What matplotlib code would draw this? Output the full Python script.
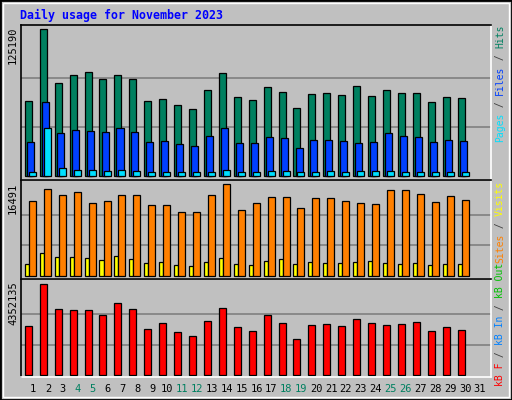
import numpy as np
import matplotlib.pyplot as plt
from matplotlib.patches import Rectangle

days = list(range(1, 32))
weekend = [4, 5, 11, 12, 18, 19, 25, 26]

hits = [63900, 125190, 79200, 86000, 88600, 82600, 86000, 82600, 63900, 65600,
        60500, 57100, 73300, 87700, 67300, 64700, 75800, 71600, 57900, 69900,
        70700, 69000, 76700, 68200, 73300, 70700, 70700, 63000, 67300, 66500]
files = [29000, 63000, 36600, 39200, 38300, 37500, 40900, 37500, 29000, 29800,
         27300, 25600, 34100, 40900, 28100, 28100, 33200, 32400, 23900, 30700,
         30700, 29800, 28100, 29000, 36600, 34100, 33200, 29000, 30700, 29800]
pages = [3400, 40900, 6800, 5100, 5100, 4300, 5100, 4300, 3400, 3400,
         3400, 3400, 3400, 5100, 3400, 3400, 4300, 4300, 3400, 3400,
         4300, 3400, 4300, 4300, 4300, 3400, 3400, 3400, 3400, 3400]
sites = [13400, 15600, 14500, 15000, 13100, 13400, 14500, 14500, 12700, 12700,
         11500, 11500, 14500, 16491, 11800, 13100, 14100, 14100, 12200, 14000,
         14000, 13400, 13100, 12900, 15400, 15400, 14700, 13200, 14300, 13600]
visits = [2150, 4100, 3400, 3400, 3200, 2900, 3600, 3000, 2300, 2500,
          2000, 1800, 2500, 3200, 2150, 2000, 2700, 3000, 2150, 2500,
          2300, 2300, 2500, 2700, 2300, 2150, 2300, 2000, 2150, 2150]
kbytes = [2343000, 4352135, 3157000, 3109000, 3109000, 2870000, 3443000, 3157000,
          2200000, 2487000, 2057000, 1865000, 2583000, 3204000, 2296000, 2104000,
          2870000, 2487000, 1722000, 2391000, 2439000, 2343000, 2678000, 2487000,
          2391000, 2439000, 2535000, 2104000, 2296000, 2152000]

W, H = 512, 400
BG = "#c0c0c0"
MONO = "DejaVu Sans Mono"

fig = plt.figure(figsize=(W / 100, H / 100), dpi=100, facecolor=BG)


def px_axes(x0, y0, x1, y1):
    return fig.add_axes([x0 / W, 1 - y1 / H, (x1 - x0) / W, (y1 - y0) / H])


def style(ax, ylim, top):
    ax.set_facecolor(BG)
    ax.set_xlim(0.2, 31.7)
    ax.set_ylim(*ylim)
    for g in (top / 3, 2 * top / 3):
        ax.axhline(g, color="#808080", lw=1.2, zorder=0)
    ax.set_xticks([])
    ax.set_yticks([])
    for s in ("top", "left"):
        ax.spines[s].set_color("black")
    for s in ("bottom", "right"):
        ax.spines[s].set_color("white")
    for s in ax.spines.values():
        s.set_linewidth(1.2)


x = np.array(days[:30])
kw = dict(align="edge", edgecolor="black", linewidth=0.9, zorder=2)

ax1 = px_axes(21, 25, 491, 180)
style(ax1, (-3400, 128600), 125190)
ax1.bar(x - 0.54, hits, 0.47, color="#008060", **kw)
ax1.bar(x - 0.40, files, 0.47, color="#0040ff", **kw)
ax1.bar(x - 0.27, pages, 0.47, color="#00e0ff", **kw)

ax2 = px_axes(21, 180, 491, 279)
style(ax2, (-540, 17184), 16491)
ax2.bar(x - 0.54, visits, 0.27, color="#ffff00", **kw)
ax2.bar(x - 0.27, sites, 0.47, color="#ff8000", **kw)

ax3 = px_axes(21, 279, 491, 377)
style(ax3, (-95650, 4591000), 4352135)
ax3.bar(x - 0.54, kbytes, 0.47, color="#ff0000", **kw)

# day labels
for d in days:
    xp = 33 + (d - 1) * 14.9
    fig.text(xp / W, 1 - 389 / H, str(d), ha="center", va="center",
             fontsize=7.5, family=MONO,
             color="#008060" if d in weekend else "black")

fig.text(20 / W, 1 - 15 / H, "Daily usage for November 2023", ha="left",
         va="center", fontsize=8.4, family=MONO, weight="bold", color="#0000ff")

# left max labels
for label, ytop in (("125190", 26), ("16491", 183), ("4352135", 281)):
    fig.text(13 / W, 1 - ytop / H, label, rotation=90, ha="center", va="top",
             fontsize=7.5, family=MONO, color="black")

# right legends, rotated, multi-colour
CH = 5.85


def legend(parts, ybottom):
    y = ybottom
    for txt, col in parts:
        fig.text(500 / W, 1 - y / H, txt, rotation=90, ha="center",
                 va="bottom", fontsize=7, family=MONO, color=col)
        y -= len(txt) * CH


legend([("Pages", "#00e0ff"), (" / ", "#404040"), ("Files", "#0040ff"),
        (" / ", "#404040"), ("Hits", "#008060")], 142)
legend([("Sites", "#ff8000"), (" / ", "#404040"), ("Visits", "#ffff00")], 263)
legend([("kB F", "#ff0000"), (" / ", "#404040"), ("kB In", "#0080ff"),
        (" / ", "#404040"), ("kB Out", "#00c000")], 386)

# outer frame with bevel
fig.patches.append(Rectangle((0, 0), 1, 1, transform=fig.transFigure,
                             fill=False, edgecolor="black", lw=2))
fig.patches.append(Rectangle((3 / W, 3 / H), 1 - 6 / W, 1 - 6 / H,
                             transform=fig.transFigure, fill=False,
                             edgecolor="white", lw=1))

fig.savefig("out.png", dpi=100, facecolor=BG)
